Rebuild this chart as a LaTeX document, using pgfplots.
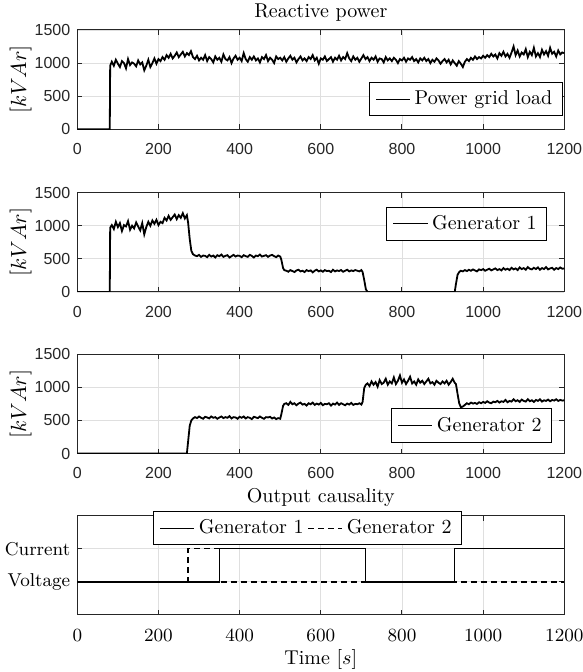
\documentclass[border=0pt]{standalone}
\usepackage{fontspec}
\newfontfamily\tickfont{Liberation Sans}
\usepackage{pgfplots}
\pgfplotsset{compat=1.18}
\usepackage{pgfplotstable}
\definecolor{axc}{RGB}{38,38,38}
\definecolor{gridc}{RGB}{223,223,223}

\pgfplotstableread{
t y
0 0
80 0
81 960
85 1020
90 960
95 1050
100 990
105 940
110 1030
115 1000
120 920
125 1060
130 970
135 1010
140 990
145 950
150 1040
155 980
160 1010
165 890
170 960
175 1050
180 940
185 1000
190 1070
195 990
200 1060
205 1030
210 1090
215 1050
220 1120
225 1080
230 1140
235 1070
240 1110
245 1160
250 1090
255 1130
260 1170
265 1100
270 1150
275 1120
280 1180
285 1090
290 1060
295 1110
300 1040
305 1080
310 1050
315 1120
320 1030
325 1090
330 1060
335 1010
340 1100
345 1050
350 1080
355 1020
360 1130
365 1060
370 1040
375 1090
380 1000
385 1070
390 1110
395 1050
400 1080
405 1030
410 1150
415 1060
420 1020
425 1090
430 1050
435 1100
440 1040
445 1070
450 1010
455 1090
460 1060
465 1120
470 1030
475 1080
480 1050
485 1000
490 1100
495 1060
500 1080
505 1040
510 1090
515 1020
520 1070
525 1110
530 1050
535 1080
540 1010
545 1060
550 1100
555 1040
560 1070
565 1030
570 1090
575 1060
580 1120
585 1040
590 1080
595 990
600 1070
605 1050
610 1100
615 1030
620 1060
625 1090
630 1020
635 1080
640 1050
645 1110
650 1040
655 1090
660 1060
665 1150
670 1070
675 1030
680 1100
685 1050
690 1080
695 1020
700 1070
705 1120
710 1060
715 1090
720 1030
725 1080
730 1050
735 1100
740 1020
745 1070
750 1060
755 1010
760 1090
765 1040
770 1070
775 1030
780 1080
785 1050
790 1000
795 1060
800 1040
805 1080
810 1020
815 1070
820 1050
825 1090
830 1030
835 1060
840 1010
845 1070
850 1040
855 1080
860 1030
865 1060
870 1000
875 1050
880 1020
885 1070
890 1040
895 990
900 1030
905 1060
910 1010
915 1050
920 980
925 1040
930 1000
935 960
940 1030
945 990
950 940
955 1020
960 1060
965 1030
970 1080
975 1050
980 1100
985 1060
990 1090
995 1070
1000 1110
1005 1080
1010 1120
1015 1090
1020 1140
1025 1100
1030 1130
1035 1070
1040 1150
1045 1110
1050 1170
1055 1100
1060 1140
1065 1080
1070 1160
1075 1250
1080 1120
1085 1190
1090 1100
1095 1160
1100 1130
1105 1210
1110 1090
1115 1170
1120 1120
1125 1230
1130 1100
1135 1150
1140 1090
1145 1200
1150 1130
1155 1180
1160 1110
1165 1230
1170 1140
1175 1170
1180 1100
1185 1190
1190 1130
1195 1160
1200 1150
}\loaddata

\pgfplotstableread{
t y
0 0
80 0
81 970
85 1010
90 950
95 1060
100 980
105 1040
110 920
115 1010
120 990
125 1070
130 940
135 1000
140 960
145 1050
150 990
155 930
160 1040
165 870
170 980
175 1060
180 1000
185 1080
190 1030
195 1090
200 1010
205 1060
210 1040
215 1120
220 1080
225 1150
230 1090
235 1130
240 1170
245 1100
250 1160
255 1120
260 1190
265 1110
270 1160
273 1050
277 800
281 620
285 570
290 550
295 540
300 560
305 530
310 550
315 545
320 525
325 560
330 535
335 550
340 520
345 555
350 540
355 565
360 530
365 545
370 555
375 520
380 540
385 560
390 535
395 550
400 545
405 525
410 555
415 540
420 530
425 560
430 545
435 520
440 550
445 540
450 565
455 535
460 545
465 555
470 530
475 550
480 560
485 540
490 525
495 550
500 535
503 480
507 360
510 330
515 320
520 305
525 330
530 315
535 300
540 325
545 335
550 310
555 320
560 300
565 330
570 315
575 325
580 295
585 320
590 335
595 310
600 325
605 305
610 330
615 315
620 320
625 300
630 335
635 310
640 325
645 315
650 330
655 305
660 320
665 335
670 310
675 325
680 315
685 330
690 320
695 310
700 330
703 300
707 180
711 40
715 0
930 0
933 120
937 260
941 300
945 320
950 310
955 330
960 315
965 335
970 320
975 340
980 325
985 310
990 340
995 330
1000 345
1005 320
1010 335
1015 350
1020 325
1025 340
1030 355
1035 330
1040 345
1045 325
1050 360
1055 335
1060 350
1065 330
1070 365
1075 340
1080 355
1085 330
1090 370
1095 345
1100 360
1105 335
1110 375
1115 350
1120 340
1125 365
1130 345
1135 370
1140 335
1145 360
1150 345
1155 375
1160 340
1165 355
1170 365
1175 335
1180 360
1185 345
1190 370
1195 350
1200 355
}\genone

\pgfplotstableread{
t y
0 0
270 0
273 180
277 420
281 500
285 530
290 550
295 535
300 560
305 540
310 525
315 555
320 545
325 530
330 560
335 540
340 550
345 525
350 545
355 560
360 535
365 550
370 540
375 565
380 530
385 550
390 545
395 525
400 555
405 540
410 560
415 530
420 550
425 540
430 520
435 555
440 545
445 535
450 560
455 540
460 525
465 550
470 545
475 555
480 530
485 545
490 520
495 535
500 525
503 600
507 720
510 750
515 760
520 735
525 780
530 745
535 760
540 730
545 755
550 770
555 740
560 750
565 725
570 760
575 745
580 770
585 735
590 755
595 740
600 765
605 730
610 750
615 745
620 760
625 725
630 755
635 740
640 770
645 735
650 760
655 745
660 730
665 755
670 740
675 765
680 735
685 750
690 745
695 760
700 740
703 780
707 990
711 1040
715 1060
720 1020
725 1090
730 1040
735 1080
740 1010
745 1110
750 1050
755 1070
760 1130
765 1040
770 1090
775 1060
780 1150
785 1050
790 1100
795 1180
800 1070
805 1120
810 1050
815 1100
820 1160
825 1060
830 1090
835 1040
840 1120
845 1070
850 1100
855 1050
860 1090
865 1130
870 1060
875 1080
880 1040
885 1100
890 1070
895 1050
900 1090
905 1060
910 1100
915 1040
920 1080
925 1130
930 1070
933 1050
937 900
941 760
945 700
950 710
955 735
960 760
965 745
970 770
975 755
980 765
985 750
990 775
995 760
1000 780
1005 765
1010 790
1015 770
1020 760
1025 785
1030 775
1035 795
1040 770
1045 790
1050 780
1055 810
1060 775
1065 795
1070 785
1075 820
1080 790
1085 805
1090 780
1095 815
1100 795
1105 785
1110 820
1115 790
1120 805
1125 780
1130 810
1135 795
1140 820
1145 785
1150 805
1155 795
1160 815
1165 790
1170 810
1175 800
1180 820
1185 795
1190 810
1195 800
1200 805
}\gentwo

\pgfplotsset{
  every axis title/.style={at={(0.5,1)}, anchor=south, yshift=1pt, font=\fontsize{10}{12}\selectfont},
  base/.style={
    scale only axis, width=243.5pt, height=49.6pt,
    xmin=0, xmax=1200, xtick={0,200,...,1200},
    grid=major, major grid style={gridc, line width=0.4pt},
    tick align=inside, major tick length=2.5pt,
    axis line style={axc, line width=0.5pt},
    every tick/.style={axc, line width=0.5pt},
    /pgf/number format/1000 sep={},
    /pgf/number format/assume math mode=true,
    xticklabel style={yshift=-3.5pt},
    legend cell align=left,
    legend image post style={line width=0.55pt},
    legend style={draw=black, fill=white, line width=0.5pt, font=\fontsize{10}{12}\selectfont},
  },
  topax/.style={
    base,
    ymin=0, ymax=1500, ytick={0,500,1000,1500},
    tick label style={font=\tickfont\fontsize{8}{9.6}\selectfont, text=axc},
    ylabel={$[kVAr]$},
    ylabel style={at={(axis description cs:-0.1164,0.5)}, anchor=center, font=\fontsize{10.5}{12}\selectfont},
  },
}

\begin{document}
\begin{tikzpicture}
\useasboundingbox (-38.65pt,15pt) rectangle (252.35pt,-321pt);

\begin{axis}[topax, at={(0pt,0pt)}, anchor=north west, title={Reactive power},
  legend style={at={(0.997,0.13)}, anchor=south east}]
\addplot[black, line width=0.9pt] table {\loaddata};
\addlegendentry{Power grid load}
\end{axis}

\begin{axis}[topax, at={(0pt,-81.35pt)}, anchor=north west,
  legend style={at={(0.965,0.86)}, anchor=north east}]
\addplot[black, line width=0.9pt] table {\genone};
\addlegendentry{Generator 1}
\end{axis}

\begin{axis}[topax, at={(0pt,-162.15pt)}, anchor=north west,
  legend style={at={(0.975,0.11)}, anchor=south east}]
\addplot[black, line width=0.9pt] table {\gentwo};
\addlegendentry{Generator 2}
\end{axis}

\begin{axis}[base, at={(0pt,-242.85pt)}, anchor=north west,
  ymin=-1, ymax=2, ytick={0,1}, yticklabels={Voltage,Current},
  tick label style={font=\fontsize{9.3}{11}\selectfont},
  title={Output causality}, xlabel={Time $[s]$},
  xlabel style={font=\fontsize{10}{12}\selectfont, yshift=3pt},
  legend columns=2,
  legend style={at={(0.473,1.045)}, anchor=north}]
\addplot[black, line width=0.7pt] coordinates {(0,0) (350,0) (350,1) (710,1) (710,0) (930,0) (930,1) (1200,1)};
\addlegendentry{Generator 1}
\addplot[black, line width=0.7pt, dash pattern=on 3pt off 2pt] coordinates {(0,0) (273,0) (273,1) (350,1) (350,0) (1200,0)};
\addlegendentry{Generator 2}
\end{axis}
\end{tikzpicture}
\end{document}
